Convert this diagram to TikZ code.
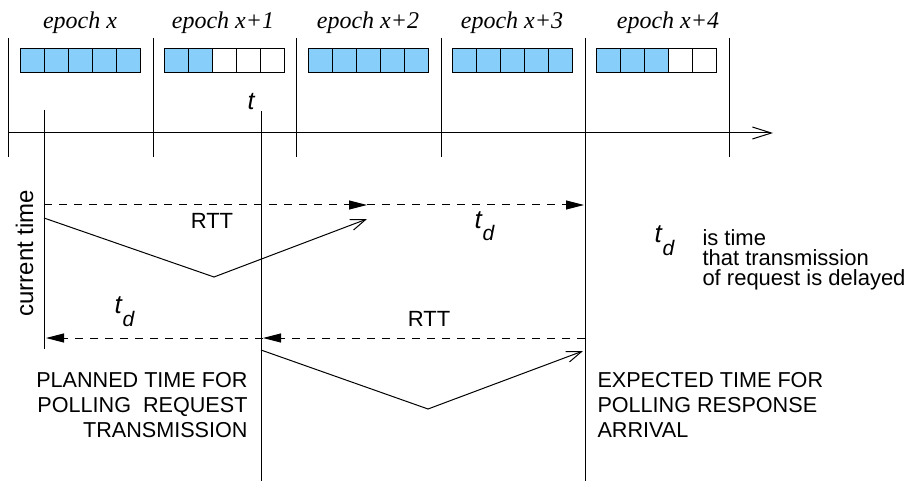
\documentclass[tikz,border=0pt]{standalone}
\usepackage{fontspec}
\setmainfont{Liberation Serif}
\setsansfont{Liberation Sans}
\usetikzlibrary{arrows.meta}
\definecolor{slotblue}{HTML}{87CEFA}
\newcommand\tdly{{\fontsize{26}{26}\selectfont\textit{t}}\raisebox{-13pt}{\fontsize{21}{21}\selectfont\textit{d}}}

\begin{document}
\begin{tikzpicture}[x=1pt,y=-1pt,line width=1pt,
  slotfull/.style={draw,fill=slotblue},
  slotfree/.style={draw,fill=white},
  axis/.style={-{Straight Barb[length=19pt,width=12pt]}},
  msg/.style={-{Straight Barb[length=15pt,width=11pt]}},
  dashline/.style={dash pattern=on 8pt off 7pt,-{Triangle[length=18pt,width=9pt]}},
  epochlbl/.style={anchor=base,inner sep=0pt,font=\fontsize{24}{28}\selectfont\itshape},
  lbl/.style={inner sep=0pt,font=\fontsize{22}{26}\selectfont\sffamily},
  caps/.style={inner sep=0pt,font=\fontsize{21.6}{25.2}\selectfont\sffamily},
  note/.style={inner sep=0pt,align=left,font=\fontsize{22}{20}\selectfont\sffamily}]
\useasboundingbox (0,0) rectangle (907,481);

% Slots of the five epochs
\begin{scope}[xshift=20]
\draw[slotfull] (0,49) rectangle (24,73);
\draw[slotfull] (24,49) rectangle (48,73);
\draw[slotfull] (48,49) rectangle (72,73);
\draw[slotfull] (72,49) rectangle (96,73);
\draw[slotfull] (96,49) rectangle (120,73);
\end{scope}

\begin{scope}[xshift=164]
\draw[slotfull] (0,49) rectangle (24,73);
\draw[slotfull] (24,49) rectangle (48,73);
\draw[slotfree] (48,49) rectangle (72,73);
\draw[slotfree] (72,49) rectangle (96,73);
\draw[slotfree] (96,49) rectangle (120,73);
\end{scope}

\begin{scope}[xshift=308]
\draw[slotfull] (0,49) rectangle (24,73);
\draw[slotfull] (24,49) rectangle (48,73);
\draw[slotfull] (48,49) rectangle (72,73);
\draw[slotfull] (72,49) rectangle (96,73);
\draw[slotfull] (96,49) rectangle (120,73);
\end{scope}

\begin{scope}[xshift=452]
\draw[slotfull] (0,49) rectangle (24,73);
\draw[slotfull] (24,49) rectangle (48,73);
\draw[slotfull] (48,49) rectangle (72,73);
\draw[slotfull] (72,49) rectangle (96,73);
\draw[slotfull] (96,49) rectangle (120,73);
\end{scope}

\begin{scope}[xshift=596]
\draw[slotfull] (0,49) rectangle (24,73);
\draw[slotfull] (24,49) rectangle (48,73);
\draw[slotfull] (48,49) rectangle (72,73);
\draw[slotfree] (72,49) rectangle (96,73);
\draw[slotfree] (96,49) rectangle (120,73);
\end{scope}

\node[epochlbl] (ep0) at (80,29) {epoch x};
\node[epochlbl] (ep1) at (223,29) {epoch x+1};
\node[epochlbl] (ep2) at (368,29) {epoch x+2};
\node[epochlbl] (ep3) at (512,29) {epoch x+3};
\node[epochlbl] (ep4) at (668,29) {epoch x+4};

% time axis and epoch borders
\coordinate (axs) at (8,133);
\coordinate (axe) at (773,133);
\draw[axis] (axs) -- (axe);
\coordinate (b0t) at (8,38);   \coordinate (b0b) at (8,157);
\coordinate (b1t) at (153,38); \coordinate (b1b) at (153,157);
\coordinate (b2t) at (296,38); \coordinate (b2b) at (296,157);
\coordinate (b3t) at (441,38); \coordinate (b3b) at (441,157);
\coordinate (b4t) at (585,38); \coordinate (b4b) at (585,481);
\coordinate (b5t) at (729,38); \coordinate (b5b) at (729,157);
\draw (b0t) -- (b0b);
\draw (b1t) -- (b1b);
\draw (b2t) -- (b2b);
\draw (b3t) -- (b3b);
\draw (b4t) -- (b4b);
\draw (b5t) -- (b5b);

% current time and planned time t
\coordinate (nowt) at (44,110);  \coordinate (nowb) at (44,349);
\coordinate (plant) at (261,111); \coordinate (planb) at (261,481);
\draw (nowt) -- (nowb);
\draw (plant) -- (planb);
\node[lbl,anchor=base east,font=\fontsize{25}{26}\selectfont\sffamily] (tlbl) at (256,110) {\textit{t}};
\node[lbl,rotate=90,anchor=base,font=\fontsize{24}{26}\selectfont\sffamily] (curlbl) at (33,253) {current time};

% upper intervals
\coordinate (up0) at (44,205);
\coordinate (up1) at (367,205);
\coordinate (up2) at (584,205);
\draw[dashline] (up0) -- (up1);
\draw[dashline] (up1) -- (up2);
\coordinate (req0) at (44,218);
\coordinate (req1) at (214,277);
\coordinate (req2) at (367,219);
\draw[msg] (req0) -- (req1) -- (req2);
\node[lbl,anchor=base] (rtt1) at (212,229) {RTT};
\node[lbl,anchor=base west] (td1) at (474,228) {\tdly};

% lower intervals
\coordinate (lo0) at (585,338);
\coordinate (lo1) at (263,338);
\coordinate (lo2) at (46,338);
\draw[dashline] (lo0) -- (lo1);
\draw[dashline] (lo1) -- (lo2);
\coordinate (poll0) at (261,350);
\coordinate (poll1) at (428,409);
\coordinate (poll2) at (583,351);
\draw[msg] (poll0) -- (poll1) -- (poll2);
\node[lbl,anchor=base] (rtt2) at (429,326) {RTT};
\node[lbl,anchor=base west] (td2) at (114,313) {\tdly};

% legend and captions
\node[lbl,anchor=base west] (td3) at (654,242) {\tdly};
\node[note,anchor=north west] (tdnote) at (702,229) {is time\\that transmission\\of request is delayed};
\node[caps,align=right,anchor=north east] (plan) at (248,372) {PLANNED TIME FOR\\POLLING~~REQUEST\\TRANSMISSION};
\node[caps,align=left,anchor=north west] (expect) at (597,372) {EXPECTED TIME FOR\\POLLING RESPONSE\\ARRIVAL};
\end{tikzpicture}
\end{document}
